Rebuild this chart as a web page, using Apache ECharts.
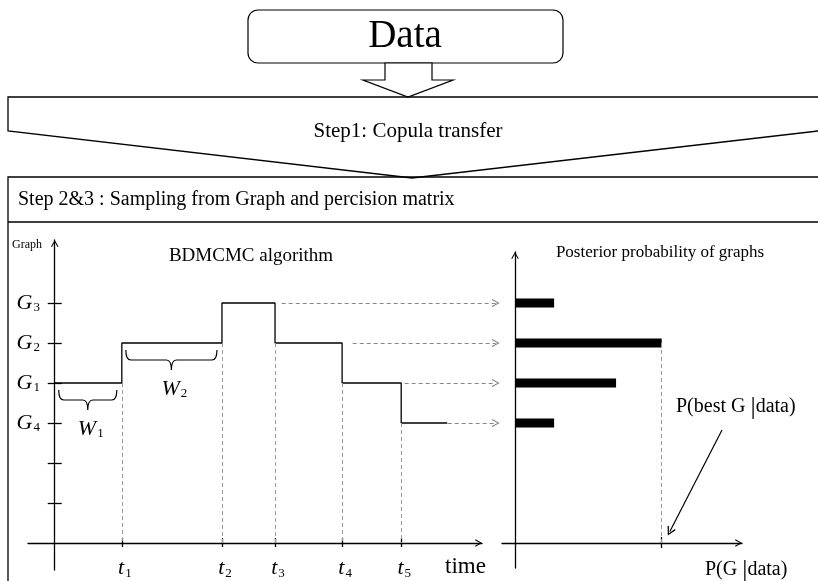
<!DOCTYPE html>
<html><head><meta charset="utf-8">
<script src="https://cdn.jsdelivr.net/npm/echarts@6/dist/echarts.min.js"></script>
<style>html,body{margin:0;padding:0;background:#fff}#c{width:818px;height:581px}</style>
</head><body><div id="c"></div>
<script>
// ---------- data ----------
const graphNames = ['G3', 'G2', 'G1', 'G4'];
const graphLevels = [6, 5, 4, 3];
const levelTicks = [1, 2, 3, 4, 5, 6];
const jumpTimes = [6.7, 16.7, 22.0, 28.7, 34.6];
const jumpLabels = ['t1', 't2', 't3', 't4', 't5'];
const chainStates = ['G1', 'G2', 'G3', 'G2', 'G1', 'G4'];
const chainEnd = 39.2;
const posteriorProb = [0.12, 0.45, 0.31, 0.12];
const connectorStart = [22.7, 29.8, 35.0, 39.3];
const connectorEnd = 44.1;
const waitNames = ['W1', 'W2'];

// ---------- helpers ----------
const FONT = '"Liberation Serif", "Times New Roman", serif';
const CHEV = 'path://M0,8.6L5,0L10,8.6L8.8,9.4L5,2.6L1.2,9.4Z';
const lvl = g => graphLevels[graphNames.indexOf(g)];
const sub = s => '{m|' + s[0] + '}{s|' + s.slice(1) + '}';
const subRich = {
  m: { fontFamily: FONT, fontStyle: 'italic', fontSize: 22, color: '#000' },
  s: { fontFamily: FONT, fontSize: 13, color: '#000', padding: [10, 0, 0, 1] }
};
const tRich = {
  m: { fontFamily: FONT, fontStyle: 'italic', fontSize: 22, color: '#000', padding: [0, 0, 0, 6] },
  s: { fontFamily: FONT, fontSize: 13, color: '#000', padding: [10, 0, 0, 1] }
};

const chainTimes = [0].concat(jumpTimes);
const stepData = chainTimes.map((t, i) => [t, lvl(chainStates[i])]);
stepData.push([chainEnd, lvl(chainStates[chainStates.length - 1])]);

const jumpLines = jumpTimes.map((t, i) => [
  { coord: [t, Math.min(lvl(chainStates[i]), lvl(chainStates[i + 1]))] },
  { coord: [t, 0] }
]);
const waitData = waitNames.map((w, i) => [chainTimes[i], chainTimes[i + 1], lvl(chainStates[i]), i]);
const connectorLines = graphNames.map((g, i) => [
  { coord: [connectorStart[i], graphLevels[i]] },
  { coord: [connectorEnd, graphLevels[i]] }
]);
const barData = posteriorProb.map((p, i) => [p, graphLevels[i]]);
const bestIdx = posteriorProb.indexOf(Math.max.apply(null, posteriorProb));
const bestP = posteriorProb[bestIdx];

// ---------- chart ----------
const chart = echarts.init(document.getElementById('c'), null, { renderer: 'canvas' });
const blackLine = { color: '#000', width: 1.3 };
const LX = [-2.67, 42.67], LY = [-0.675, 7.575];
const RX = [-0.0399, 0.6963], RY = [-0.625, 7.275];

chart.setOption({
  animation: false,
  backgroundColor: '#fff',
  grid: [
    { left: 28, right: 336, top: 240, bottom: 11, containLabel: false, outerBoundsMode: 'none' },
    { left: 502, right: 76, top: 252, bottom: 13, containLabel: false, outerBoundsMode: 'none' },
    { left: 28, right: 313, top: 240, bottom: 11, containLabel: false, outerBoundsMode: 'none' }
  ],
  xAxis: [
    { gridIndex: 0, type: 'value', min: LX[0], max: LX[1],
      axisLine: { show: true, onZero: true, symbol: ['none', CHEV], symbolSize: [8, 7], symbolOffset: [0, -3.5], lineStyle: blackLine },
      axisTick: { show: true, customValues: jumpTimes, length: 4, lineStyle: blackLine },
      axisLabel: { show: true, customValues: jumpTimes, margin: -13, hideOverlap: false,
        formatter: v => sub(jumpLabels[jumpTimes.indexOf(v)]), rich: tRich },
      splitLine: { show: false } },
    { gridIndex: 0, type: 'value', position: 'top', min: LX[0], max: LX[1],
      axisLine: { show: false, onZero: true },
      axisTick: { show: true, customValues: jumpTimes, length: 5, lineStyle: blackLine },
      axisLabel: { show: false }, splitLine: { show: false } },
    { gridIndex: 1, type: 'value', min: RX[0], max: RX[1],
      axisLine: { show: true, onZero: true, symbol: ['none', CHEV], symbolSize: [8, 7], symbolOffset: [0, -3.5], lineStyle: blackLine },
      axisTick: { show: true, customValues: [bestP], length: 5, lineStyle: blackLine },
      axisLabel: { show: false }, splitLine: { show: false } },
    { gridIndex: 1, type: 'value', position: 'top', min: RX[0], max: RX[1],
      axisLine: { show: false, onZero: true },
      axisTick: { show: true, customValues: [bestP], length: 6, lineStyle: blackLine },
      axisLabel: { show: false }, splitLine: { show: false } },
    { gridIndex: 2, type: 'value', min: LX[0], max: 45.03, show: false }
  ],
  yAxis: [
    { gridIndex: 0, type: 'value', min: LY[0], max: LY[1],
      axisLine: { show: true, onZero: true, symbol: ['none', CHEV], symbolSize: [8, 7], symbolOffset: [0, -3.5], lineStyle: blackLine },
      axisTick: { show: true, customValues: levelTicks, length: 7, lineStyle: blackLine },
      axisLabel: { show: true, customValues: graphLevels, margin: -12, hideOverlap: false,
        formatter: v => sub(graphNames[graphLevels.indexOf(v)]), rich: subRich },
      splitLine: { show: false } },
    { gridIndex: 0, type: 'value', position: 'right', min: LY[0], max: LY[1],
      axisLine: { show: false, onZero: true },
      axisTick: { show: true, customValues: levelTicks, length: 7, lineStyle: blackLine },
      axisLabel: { show: false }, splitLine: { show: false } },
    { gridIndex: 1, type: 'value', min: RY[0], max: RY[1],
      axisLine: { show: true, onZero: true, symbol: ['none', CHEV], symbolSize: [8, 7], symbolOffset: [0, -3.5], lineStyle: blackLine },
      axisTick: { show: false }, axisLabel: { show: false }, splitLine: { show: false } },
    { gridIndex: 1, type: 'value', position: 'right', min: RY[0], max: RY[1],
      axisLine: { show: false, onZero: true }, axisTick: { show: false },
      axisLabel: { show: false }, splitLine: { show: false } },
    { gridIndex: 2, type: 'value', min: LY[0], max: LY[1], show: false }
  ],
  series: [
    { type: 'line', xAxisIndex: 0, yAxisIndex: 0, step: 'end', data: stepData,
      symbol: 'none', lineStyle: { color: '#000', width: 1.3 }, silent: true, z: 3,
      markLine: { silent: true, symbol: 'none', label: { show: false },
        lineStyle: { color: '#999', type: [4, 3], width: 1 }, data: jumpLines } },
    { type: 'custom', xAxisIndex: 0, yAxisIndex: 0, data: waitData, silent: true,
      renderItem: (params, api) => {
        const a = api.coord([api.value(0), api.value(2)]);
        const b = api.coord([api.value(1), api.value(2)]);
        const x0 = a[0] + 4, x1 = b[0] - 5, y0 = a[1] + 7, h = 20, m = (x0 + x1) / 2, r = 5, ym = y0 + h / 2;
        const d = 'M' + x0 + ',' + y0 + ' Q' + x0 + ',' + ym + ' ' + (x0 + r) + ',' + ym +
          ' L' + (m - r) + ',' + ym + ' Q' + m + ',' + ym + ' ' + m + ',' + (y0 + h) +
          ' Q' + m + ',' + ym + ' ' + (m + r) + ',' + ym + ' L' + (x1 - r) + ',' + ym +
          ' Q' + x1 + ',' + ym + ' ' + x1 + ',' + y0;
        return { type: 'group', children: [
          { type: 'path', shape: { pathData: d }, style: { stroke: '#000', fill: 'none', lineWidth: 1.2 } },
          { type: 'text', x: m + 3, y: y0 + h + 19,
            style: { text: sub(waitNames[api.value(3)]), rich: subRich, align: 'center', verticalAlign: 'middle' } }
        ] };
      } },
    { type: 'line', xAxisIndex: 4, yAxisIndex: 4, data: connectorLines.map(l => l[0].coord),
      symbol: 'none', lineStyle: { opacity: 0 }, silent: true,
      markLine: { silent: true, symbol: ['none', CHEV], symbolSize: 8, label: { show: false },
        lineStyle: { color: '#888', type: [4, 3], width: 1 }, data: connectorLines } },
    { type: 'custom', xAxisIndex: 2, yAxisIndex: 2, data: barData, silent: true,
      renderItem: (params, api) => {
        const p0 = api.coord([0, api.value(1)]);
        const p1 = api.coord([api.value(0), api.value(1)]);
        return { type: 'rect', shape: { x: p0[0], y: p0[1] - 4.5, width: p1[0] - p0[0], height: 9 }, style: { fill: '#000' } };
      },
      markLine: { silent: true, symbol: 'none', label: { show: false },
        lineStyle: { color: '#999', type: [4, 3], width: 1 },
        data: [
          [{ coord: [bestP, graphLevels[bestIdx]] }, { coord: [bestP, 0] }],
          [{ coord: [0.635, 2.825], symbol: 'none', lineStyle: { color: '#000', type: 'solid', width: 1.2 } },
           { coord: [0.475, 0.29], symbol: CHEV, symbolSize: 9 }]
        ] } }
  ],
  graphic: [
    { type: 'rect', shape: { x: 248, y: 10, width: 315, height: 53, r: 10 }, style: { stroke: '#000', fill: '#fff', lineWidth: 1.2 } },
    { type: 'text', x: 405, y: 37, style: { text: 'Data', font: '39px ' + FONT, fill: '#000', align: 'center', verticalAlign: 'middle' } },
    { type: 'polygon', shape: { points: [[385, 63], [385, 80], [363, 80], [408, 97], [453, 80], [432, 80], [432, 63]] }, style: { stroke: '#000', fill: '#fff', lineWidth: 1.2 } },
    { type: 'polygon', shape: { points: [[8, 97], [830, 97], [830, 129.6], [412, 178], [8, 131]] }, style: { stroke: '#000', fill: 'none', lineWidth: 1.3 } },
    { type: 'text', x: 408, y: 131, style: { text: 'Step1: Copula transfer', font: '21px ' + FONT, fill: '#000', align: 'center', verticalAlign: 'middle' } },
    { type: 'rect', shape: { x: 8, y: 177, width: 830, height: 500 }, style: { stroke: '#000', fill: 'none', lineWidth: 1.3 } },
    { type: 'line', shape: { x1: 8, y1: 222, x2: 830, y2: 222 }, style: { stroke: '#000', lineWidth: 1.3 } },
    { type: 'text', x: 18, y: 200, style: { text: 'Step 2&3 : Sampling from Graph and percision matrix', font: '20px ' + FONT, fill: '#000', align: 'left', verticalAlign: 'middle' } },
    { type: 'text', x: 12, y: 245, style: { text: 'Graph', font: '12px ' + FONT, fill: '#000', align: 'left', verticalAlign: 'middle' } },
    { type: 'text', x: 251, y: 256, style: { text: 'BDMCMC algorithm', font: '19px ' + FONT, fill: '#000', align: 'center', verticalAlign: 'middle' } },
    { type: 'text', x: 660, y: 253, style: { text: 'Posterior probability of graphs', font: '17px ' + FONT, fill: '#000', align: 'center', verticalAlign: 'middle' } },
    { type: 'text', x: 445, y: 567, style: { text: 'time', font: '23px ' + FONT, fill: '#000', align: 'left', verticalAlign: 'middle' } },
    { type: 'text', x: 676, y: 407, style: { text: '{a|P(best G }{b||}{a|data)}', align: 'left', verticalAlign: 'middle',
        rich: { a: { fontFamily: FONT, fontSize: 20, color: '#000' }, b: { fontFamily: FONT, fontSize: 26, color: '#000' } } } },
    { type: 'text', x: 705, y: 570, style: { text: '{a|P(G }{b||}{a|data)}', align: 'left', verticalAlign: 'middle',
        rich: { a: { fontFamily: FONT, fontSize: 20, color: '#000' }, b: { fontFamily: FONT, fontSize: 26, color: '#000' } } } }
  ]
});
</script></body></html>
